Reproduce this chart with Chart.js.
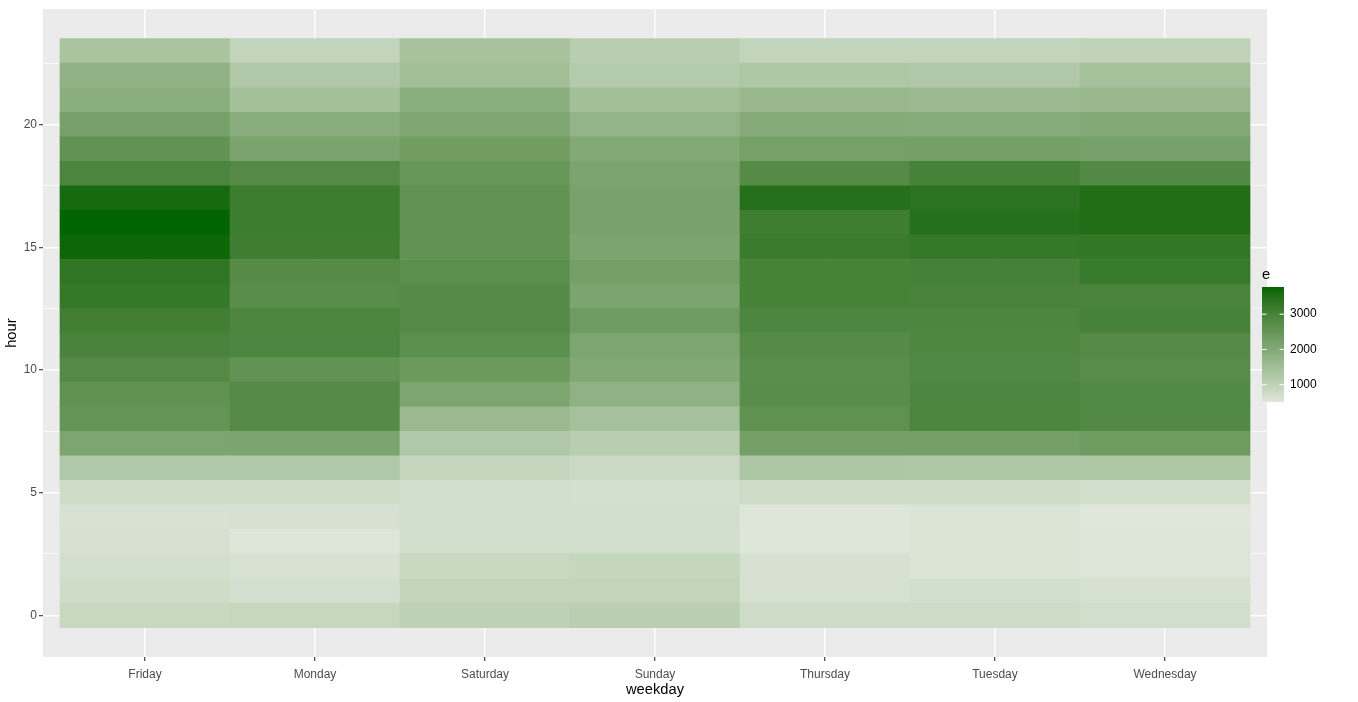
<!DOCTYPE html>
<html>
<head>
<meta charset="utf-8">
<title>hour by weekday</title>
<script src="https://cdn.jsdelivr.net/npm/chart.js@4.4.1/dist/chart.umd.min.js"></script>
<style>
  html, body { margin: 0; padding: 0; background: #ffffff; }
  #wrap { width: 1358px; height: 702px; }
</style>
</head>
<body>
<div id="wrap"><canvas id="heatmap" width="1358" height="702"></canvas></div>
<script>
// categories
const weekdays = ['Friday', 'Monday', 'Saturday', 'Sunday', 'Thursday', 'Tuesday', 'Wednesday'];
const hours = [0, 1, 2, 3, 4, 5, 6, 7, 8, 9, 10, 11, 12, 13, 14, 15, 16, 17, 18, 19, 20, 21, 22, 23];

// e per hour (index = hour 0..23)
const friday    = [870, 770, 695, 645, 620, 770, 1270, 2120, 2520, 2595, 2795, 2970, 3070, 3270, 3345, 3700, 3770, 3620, 2920, 2570, 2220, 1895, 1795, 1370];
const monday    = [895, 670, 620, 520, 645, 795, 1270, 2145, 2770, 2770, 2570, 2895, 2920, 2720, 2770, 3120, 3145, 3145, 2795, 2170, 1920, 1470, 1270, 970];
const saturday  = [1045, 970, 870, 720, 695, 695, 920, 1270, 1620, 2120, 2420, 2670, 2795, 2770, 2670, 2570, 2570, 2570, 2495, 2320, 2070, 1895, 1495, 1420];
const sunday    = [1095, 970, 920, 720, 695, 670, 820, 1120, 1445, 1820, 2045, 2120, 2370, 2145, 2270, 2145, 2195, 2195, 2145, 2020, 1745, 1495, 1195, 1120];
const thursday  = [795, 645, 645, 530, 530, 770, 1320, 2270, 2620, 2720, 2695, 2770, 2895, 2995, 2995, 3195, 3120, 3470, 2770, 2245, 1970, 1645, 1295, 970];
const tuesday   = [795, 695, 570, 570, 570, 795, 1295, 2270, 2920, 2895, 2845, 2870, 2895, 2970, 3020, 3270, 3470, 3395, 2995, 2270, 1945, 1620, 1270, 970];
const wednesday = [720, 645, 545, 545, 510, 695, 1295, 2370, 2820, 2820, 2745, 2795, 2995, 2945, 3220, 3295, 3520, 3520, 2820, 2220, 2020, 1645, 1445, 1020];

// tick labels
const hourTicks = [0, 5, 10, 15, 20];
const legendTicks = [1000, 2000, 3000];

const series = [friday, monday, saturday, sunday, thursday, tuesday, wednesday];

// ---- colour ramp (ggplot interpolates in CIELAB) ----
const LOW = '#dee7da';
const HIGH = '#006400';

function hexToRgb(h) {
    return [parseInt(h.slice(1, 3), 16), parseInt(h.slice(3, 5), 16), parseInt(h.slice(5, 7), 16)];
}
function toLin(c) {
    c /= 255;
    return c <= 0.04045 ? c / 12.92 : Math.pow((c + 0.055) / 1.055, 2.4);
}
function fromLin(c) {
    const v = c <= 0.0031308 ? 12.92 * c : 1.055 * Math.pow(c, 1 / 2.4) - 0.055;
    return Math.max(0, Math.min(255, Math.round(v * 255)));
}
function rgbToLab(rgb) {
    const [r, g, b] = rgb.map(toLin);
    const X = (0.4124 * r + 0.3576 * g + 0.1805 * b) / 0.95047;
    const Y = 0.2126 * r + 0.7152 * g + 0.0722 * b;
    const Z = (0.0193 * r + 0.1192 * g + 0.9505 * b) / 1.08883;
    const f = t => t > 0.008856 ? Math.cbrt(t) : 7.787 * t + 16 / 116;
    const fx = f(X), fy = f(Y), fz = f(Z);
    return [116 * fy - 16, 500 * (fx - fy), 200 * (fy - fz)];
}
function labToHex(lab) {
    const fy = (lab[0] + 16) / 116, fx = fy + lab[1] / 500, fz = fy - lab[2] / 200;
    const inv = t => (t * t * t > 0.008856) ? t * t * t : (t - 16 / 116) / 7.787;
    const X = inv(fx) * 0.95047, Y = inv(fy), Z = inv(fz) * 1.08883;
    const r = 3.2406 * X - 1.5372 * Y - 0.4986 * Z;
    const g = -0.9689 * X + 1.8758 * Y + 0.0415 * Z;
    const b = 0.0557 * X - 0.2040 * Y + 1.0570 * Z;
    return '#' + [r, g, b].map(c => fromLin(c).toString(16).padStart(2, '0')).join('');
}

const labLow = rgbToLab(hexToRgb(LOW));
const labHigh = rgbToLab(hexToRgb(HIGH));
const allValues = series.flat();
const eMin = Math.min(...allValues);
const eMax = Math.max(...allValues);

function fillFor(v) {
    const t = (v - eMin) / (eMax - eMin);
    return labToHex(labLow.map((c, i) => c + (labHigh[i] - c) * t));
}

// ---- one floating-bar dataset per hour, one tile per weekday ----
const datasets = hours.map(h => ({
    label: String(h),
    data: weekdays.map((d, i) => ({ x: i + 1, y: [h - 0.5, h + 0.5] })),
    backgroundColor: weekdays.map((d, i) => fillFor(series[i][h])),
    borderWidth: 0,
    barPercentage: 1,
    categoryPercentage: 1,
    grouped: false
}));

// grey panel behind everything
const panelBg = {
    id: 'panelBg',
    beforeDraw(chart) {
        const { ctx, chartArea: a } = chart;
        ctx.save();
        ctx.fillStyle = '#ffffff';
        ctx.fillRect(0, 0, chart.width, chart.height);
        ctx.fillStyle = '#ebebeb';
        ctx.fillRect(a.left, a.top, a.right - a.left, a.bottom - a.top);
        ctx.restore();
    }
};

// colourbar legend on the right
const colourBar = {
    id: 'colourBar',
    afterDraw(chart) {
        const ctx = chart.ctx;
        const x = 1262, w = 22, top = 287, bottom = 402;
        ctx.save();
        const steps = 60;
        for (let i = 0; i < steps; i++) {
            const v0 = eMin + (eMax - eMin) * i / steps;
            const y0 = bottom - (bottom - top) * i / steps;
            const y1 = bottom - (bottom - top) * (i + 1) / steps;
            ctx.fillStyle = fillFor(v0 + (eMax - eMin) / steps / 2);
            ctx.fillRect(x, Math.floor(y1), w, Math.ceil(y0) - Math.floor(y1));
        }
        ctx.fillStyle = '#000000';
        ctx.font = '14.7px "Liberation Sans", Arial, sans-serif';
        ctx.textBaseline = 'alphabetic';
        ctx.textAlign = 'left';
        ctx.fillText('e', x, 279);
        ctx.font = '12px "Liberation Sans", Arial, sans-serif';
        ctx.textBaseline = 'middle';
        legendTicks.forEach(v => {
            const y = bottom - (v - eMin) / (eMax - eMin) * (bottom - top);
            ctx.strokeStyle = '#ffffff';
            ctx.lineWidth = 1;
            ctx.beginPath();
            ctx.moveTo(x, y); ctx.lineTo(x + 4.5, y);
            ctx.moveTo(x + w - 4.5, y); ctx.lineTo(x + w, y);
            ctx.stroke();
            ctx.fillStyle = '#000000';
            ctx.fillText(String(v), x + w + 6, y);
        });
        ctx.restore();
    }
};

Chart.defaults.font.family = '"Liberation Sans", Arial, sans-serif';

new Chart(document.getElementById('heatmap'), {
    type: 'bar',
    data: { datasets: datasets },
    plugins: [panelBg, colourBar],
    options: {
        responsive: false,
        animation: false,
        events: [],
        layout: { padding: { top: 7, right: 91, left: 0, bottom: 0 } },
        plugins: {
            legend: { display: false },
            tooltip: { enabled: false }
        },
        scales: {
            x: {
                type: 'linear',
                min: 0.4,
                max: 7.6,
                offset: false,
                afterBuildTicks: axis => { axis.ticks = weekdays.map((d, i) => ({ value: i + 1 })); },
                afterFit: axis => { axis.height = 45; },
                ticks: {
                    autoSkip: false,
                    maxRotation: 0,
                    padding: 6,
                    color: '#4d4d4d',
                    font: { size: 12 },
                    callback: v => weekdays[v - 1] || ''
                },
                grid: {
                    offset: false,
                    color: '#ffffff',
                    lineWidth: 1.4,
                    tickColor: '#333333',
                    tickWidth: 1.1,
                    tickLength: 4
                },
                border: { display: false },
                title: {
                    display: true,
                    text: 'weekday',
                    color: '#000000',
                    font: { size: 14.7 },
                    padding: { top: 0, bottom: 3 }
                }
            },
            y: {
                type: 'linear',
                min: -1.7,
                max: 24.7,
                afterBuildTicks: axis => {
                    const t = [];
                    for (let v = 0; v <= 22.5; v += 2.5) t.push({ value: v });
                    axis.ticks = t;
                },
                afterFit: axis => { axis.width = 43; },
                ticks: {
                    autoSkip: false,
                    padding: 2,
                    color: '#4d4d4d',
                    font: { size: 12 },
                    callback: v => hourTicks.includes(v) ? String(v) : ''
                },
                grid: {
                    color: '#ffffff',
                    lineWidth: c => (c.tick && hourTicks.includes(c.tick.value)) ? 1.4 : 0.7,
                    tickColor: c => (c.tick && hourTicks.includes(c.tick.value)) ? '#333333' : 'rgba(0,0,0,0)',
                    tickWidth: 1.1,
                    tickLength: 4
                },
                border: { display: false },
                title: {
                    display: true,
                    text: 'hour',
                    color: '#000000',
                    font: { size: 14.7 },
                    padding: { top: 3, bottom: 0 }
                }
            }
        }
    }
});
</script>
</body>
</html>
